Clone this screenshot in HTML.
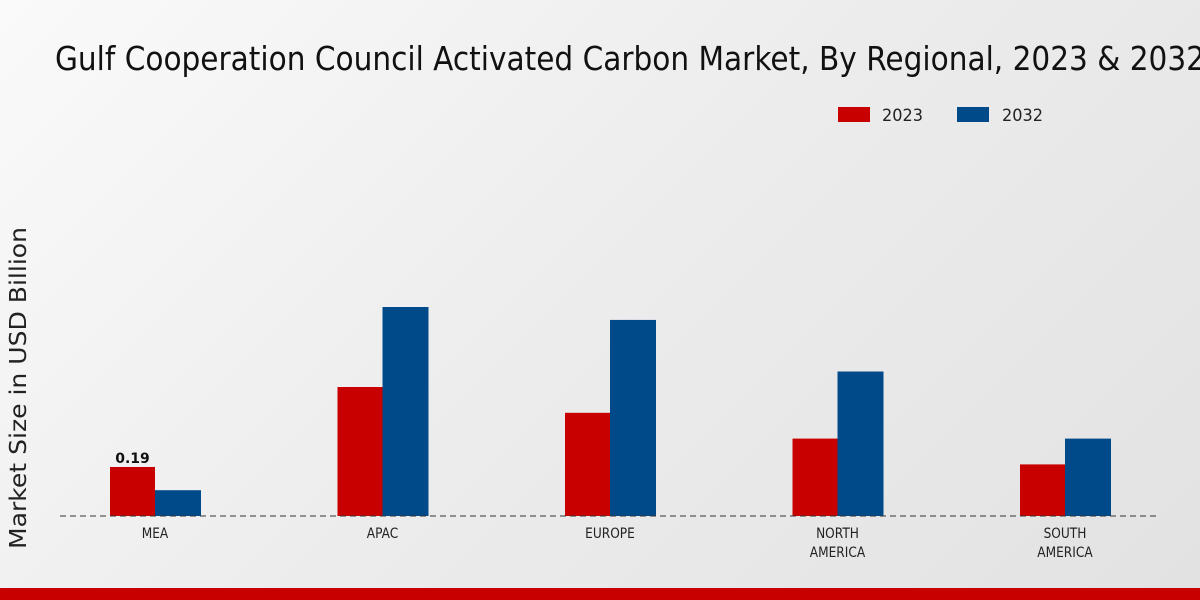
<!DOCTYPE html>
<html><head><meta charset="utf-8"><style>
html,body{margin:0;padding:0;width:1200px;height:600px;overflow:hidden}
body{background:linear-gradient(135deg,#fafafa 0%,#ececec 50%,#e2e2e2 100%);font-family:"DejaVu Sans","Liberation Sans",sans-serif}
</style></head><body>
<svg id="chart" width="1200" height="600" xmlns="http://www.w3.org/2000/svg" font-family="DejaVu Sans, Liberation Sans, sans-serif">
<text x="55" y="70" font-size="33" fill="#111" textLength="1150" lengthAdjust="spacingAndGlyphs">Gulf Cooperation Council Activated Carbon Market, By Regional, 2023 &amp; 2032</text>
<g>
<rect x="838" y="107" width="32" height="15" fill="#c80000"/>
<text x="882" y="121" font-size="17" fill="#222" textLength="41" lengthAdjust="spacingAndGlyphs">2023</text>
<rect x="957" y="107" width="32" height="15" fill="#004a8a"/>
<text x="1002" y="121" font-size="17" fill="#222" textLength="41" lengthAdjust="spacingAndGlyphs">2032</text>
</g>
<text transform="translate(26,388) rotate(-90)" text-anchor="middle" font-size="23" fill="#222" textLength="322" lengthAdjust="spacingAndGlyphs">Market Size in USD Billion</text>
<g id="bars"></g>
<line x1="60" y1="516" x2="1160" y2="516" stroke="#333" stroke-dasharray="6,4" stroke-width="1"/>
<g id="labels"></g>
<rect x="0" y="588" width="1200" height="12" fill="#c80000"/>
</svg>
<script>
const categories=[["MEA"],["APAC"],["EUROPE"],["NORTH","AMERICA"],["SOUTH","AMERICA"]];
const values2023=[0.19,0.50,0.40,0.30,0.20];
const values2032=[0.10,0.81,0.76,0.56,0.30];
const valueLabels=["0.19","","","",""];
const NS="http://www.w3.org/2000/svg";
const base=516,scale=258,x0=155,step=227.5,bw=45;
const yPx=v=>base-v*scale;
const xC=i=>x0+i*step;
const bars=document.getElementById('bars'),labels=document.getElementById('labels');
function mk(t,a){const e=document.createElementNS(NS,t);for(const k in a)e.setAttribute(k,a[k]);return e;}
categories.forEach((c,i)=>{
 const cx=xC(i);
 const r1=mk('rect',{x:cx-bw,y:yPx(values2023[i]),width:bw,height:values2023[i]*scale,fill:'#c80000'});
 
 
 bars.appendChild(r1);
 const r2=mk('rect',{x:cx,y:yPx(values2032[i]),width:bw+1,height:values2032[i]*scale,fill:'#004a8a'});
 
 
 bars.appendChild(r2);
 if(valueLabels[i]){
  const t=mk('text',{x:cx-bw/2,y:yPx(values2023[i])-4,'text-anchor':'middle','font-size':'14','font-weight':'bold',fill:'#111'});
  t.textContent=valueLabels[i];
  
  
  labels.appendChild(t);
 }
 c.forEach((line,j)=>{
  const t=mk('text',{x:cx,y:538+j*19,'text-anchor':'middle','font-size':'14',fill:'#222',transform:'translate('+cx+',0) scale(0.87,1) translate('+(-cx)+',0)'});
  t.textContent=line;
  
  
  labels.appendChild(t);
 });
});
</script>
</body></html>
